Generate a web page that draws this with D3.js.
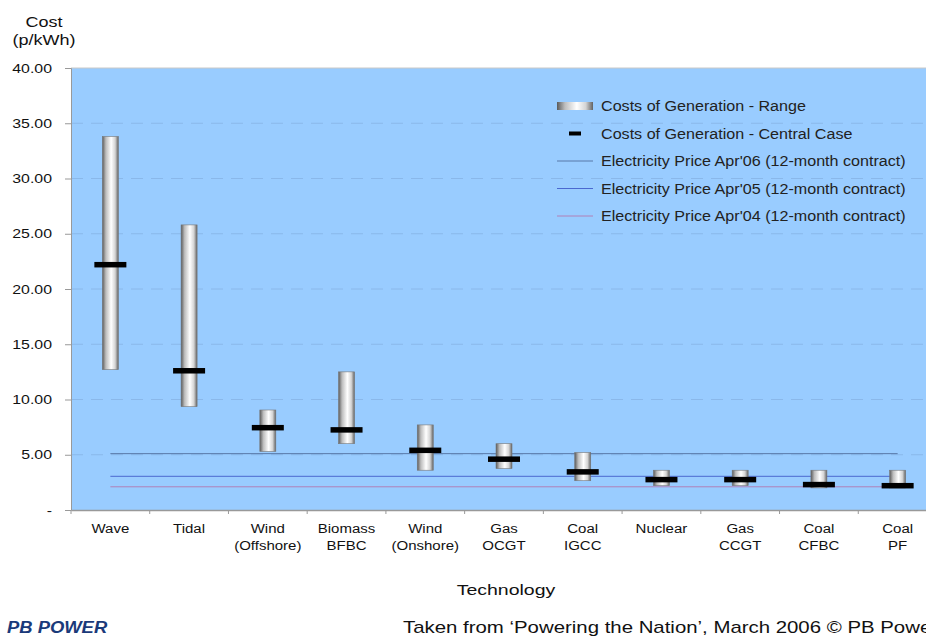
<!DOCTYPE html>
<html>
<head>
<meta charset="utf-8">
<script src="https://cdn.jsdelivr.net/npm/d3@7"></script>
<style>
  body { margin: 0; background: #fff; overflow: hidden; }
  text { font-family: "Liberation Sans", Arial, sans-serif; }
</style>
</head>
<body>
<div id="chart"></div>
<script>
// data
var technologies = [["Wave"], ["Tidal"], ["Wind", "(Offshore)"], ["Biomass", "BFBC"], ["Wind", "(Onshore)"],
    ["Gas", "OCGT"], ["Coal", "IGCC"], ["Nuclear"], ["Gas", "CCGT"], ["Coal", "CFBC"], ["Coal", "PF"]];
var rangeLow  = [12.7, 9.35, 5.3, 6.0, 3.6, 3.75, 2.65, 2.2, 2.2, 2.0, 2.0];
var rangeHigh = [33.8, 25.8, 9.05, 12.5, 7.7, 6.0, 5.2, 3.6, 3.6, 3.6, 3.6];
var central   = [22.2, 12.6, 7.45, 7.25, 5.4, 4.6, 3.45, 2.75, 2.75, 2.3, 2.2];
var priceNames = ["Electricity Price Apr'06 (12-month contract)", "Electricity Price Apr'05 (12-month contract)", "Electricity Price Apr'04 (12-month contract)"];
var priceValues = [5.1, 3.05, 2.1];
var priceColors = ["#5878a8", "#4a68d0", "#b080b8"];
var yTicks = [0, 5, 10, 15, 20, 25, 30, 35, 40];

var W = 926, H = 636;
var margin = {top: 68, left: 71, bottom: 126};
var plotRight = 937;   // the original plot runs past the window edge

// the source image is stretched sideways, so widen the text the same way
function stretch(sel, f) {
    sel.each(function () {
        var t = d3.select(this);
        t.attr("textLength", this.getComputedTextLength() * f)
         .attr("lengthAdjust", "spacingAndGlyphs");
    });
}

var svg = d3.select("#chart").append("svg")
    .attr("width", W)
    .attr("height", H);

var defs = svg.append("defs");
var grad = defs.append("linearGradient").attr("id", "cyl").attr("x1", 0).attr("x2", 1).attr("y1", 0).attr("y2", 0);
grad.append("stop").attr("offset", "0%").attr("stop-color", "#5a5a5a");
grad.append("stop").attr("offset", "22%").attr("stop-color", "#bdbdbd");
grad.append("stop").attr("offset", "55%").attr("stop-color", "#ffffff");
grad.append("stop").attr("offset", "80%").attr("stop-color", "#d4d4d4");
grad.append("stop").attr("offset", "100%").attr("stop-color", "#626262");

var x = d3.scaleBand()
    .domain(d3.range(technologies.length))
    .range([margin.left, plotRight]);

var y = d3.scaleLinear()
    .domain([0, 40])
    .range([H - margin.bottom, margin.top]);

//plot background
svg.append("rect")
    .attr("x", margin.left)
    .attr("y", margin.top)
    .attr("width", plotRight - margin.left)
    .attr("height", y(0) - margin.top)
    .attr("fill", "#99ccff");

//faint gridlines
svg.append("g")
    .selectAll("line")
    .data(yTicks.filter(d => d > 0 && d < 40))
    .join("line")
    .attr("x1", margin.left)
    .attr("x2", plotRight)
    .attr("y1", d => y(d))
    .attr("y2", d => y(d))
    .attr("stroke", "#8ab8ea")
    .attr("stroke-dasharray", "12,8");

//top border
svg.append("line")
    .attr("x1", margin.left).attr("x2", plotRight)
    .attr("y1", margin.top).attr("y2", margin.top)
    .attr("stroke", "#c8c8c8");

//price lines
svg.append("g")
    .selectAll("line")
    .data(priceValues)
    .join("line")
    .attr("x1", x(0) + x.bandwidth() / 2)
    .attr("x2", x(technologies.length - 1) + x.bandwidth() / 2)
    .attr("y1", d => y(d))
    .attr("y2", d => y(d))
    .attr("stroke", (d, i) => priceColors[i])
    .attr("stroke-width", 1);

//range bars
var barW = 16;
svg.append("g")
    .selectAll("rect")
    .data(technologies)
    .join("rect")
    .attr("x", (d, i) => x(i) + x.bandwidth() / 2 - barW / 2)
    .attr("y", (d, i) => y(rangeHigh[i]))
    .attr("width", barW)
    .attr("height", (d, i) => y(rangeLow[i]) - y(rangeHigh[i]))
    .attr("fill", "url(#cyl)")
    .attr("stroke", "#777")
    .attr("stroke-width", 0.6);

//central case markers
var markW = 32, markH = 5.5;
svg.append("g")
    .selectAll("rect")
    .data(central)
    .join("rect")
    .attr("x", (d, i) => x(i) + x.bandwidth() / 2 - markW / 2)
    .attr("y", d => y(d) - markH / 2)
    .attr("width", markW)
    .attr("height", markH)
    .attr("fill", "#000");

//y axis
var yAxis = svg.append("g")
    .attr("transform", "translate(" + margin.left + ",0)")
    .call(d3.axisLeft(y).tickValues(yTicks).tickSize(6).tickPadding(13)
        .tickFormat(d => d === 0 ? "-" : d3.format(".2f")(d)));
yAxis.selectAll("text").attr("font-size", 13).attr("fill", "#111").call(stretch, 1.22);
yAxis.selectAll("line, path").attr("stroke", "#999");

//x axis
var xAxis = svg.append("g")
    .attr("transform", "translate(0," + y(0) + ")")
    .call(d3.axisBottom(x).tickSize(0).tickFormat(""));
xAxis.select("path").attr("stroke", "#999").attr("stroke-width", 1.5);
xAxis.append("g")
    .selectAll("line")
    .data(d3.range(technologies.length + 1))
    .join("line")
    .attr("x1", i => i < technologies.length ? x(i) : plotRight)
    .attr("x2", i => i < technologies.length ? x(i) : plotRight)
    .attr("y1", 0).attr("y2", 4)
    .attr("stroke", "#999");

svg.append("g")
    .selectAll("g")
    .data(technologies)
    .join("g")
    .each(function (d, i) {
        d3.select(this).selectAll("text")
            .data(d)
            .join("text")
            .attr("x", x(i) + x.bandwidth() / 2)
            .attr("y", (t, j) => y(0) + 23 + j * 17)
            .attr("text-anchor", "middle")
            .attr("font-size", 12.5)
            .attr("fill", "#111")
            .text(t => t);
    })
    .selectAll("text").call(stretch, 1.2);

//axis titles
svg.append("text").attr("x", 44).attr("y", 27).attr("text-anchor", "middle")
    .attr("font-size", 15).attr("fill", "#111").text("Cost").call(stretch, 1.2);
svg.append("text").attr("x", 44).attr("y", 45).attr("text-anchor", "middle")
    .attr("font-size", 15).attr("fill", "#111").text("(p/kWh)").call(stretch, 1.2);
svg.append("text").attr("x", 506).attr("y", 595).attr("text-anchor", "middle")
    .attr("font-size", 15).attr("fill", "#111").text("Technology").call(stretch, 1.3);

//legend
var lx = 557, ly = 106, step = 27.5;
var legend = svg.append("g");
legend.append("rect").attr("x", lx).attr("y", ly - 4).attr("width", 36).attr("height", 8)
    .attr("fill", "url(#cyl)");
legend.append("rect").attr("x", lx + 12).attr("y", ly + step - 2).attr("width", 12).attr("height", 4)
    .attr("fill", "#000");
priceColors.forEach(function (c, i) {
    legend.append("line")
        .attr("x1", lx).attr("x2", lx + 36)
        .attr("y1", ly + step * (i + 2)).attr("y2", ly + step * (i + 2))
        .attr("stroke", c);
});
legend.selectAll("text")
    .data(["Costs of Generation - Range", "Costs of Generation - Central Case"].concat(priceNames))
    .join("text")
    .attr("x", lx + 44)
    .attr("y", (d, i) => ly + step * i + 5)
    .attr("font-size", 14)
    .attr("fill", "#222")
    .text(d => d)
    .call(stretch, 1.15);

//footer
svg.append("text").attr("x", 7).attr("y", 633)
    .attr("font-size", 16).attr("font-weight", "bold").attr("font-style", "italic")
    .attr("fill", "#1a3a7a").text("PB POWER").call(stretch, 1.15);
svg.append("text").attr("x", 403).attr("y", 633)
    .attr("font-size", 17).attr("fill", "#111")
    .text("Taken from \u2018Powering the Nation\u2019, March 2006 \u00a9 PB Power")
    .attr("textLength", 535).attr("lengthAdjust", "spacingAndGlyphs");
</script>
</body>
</html>
